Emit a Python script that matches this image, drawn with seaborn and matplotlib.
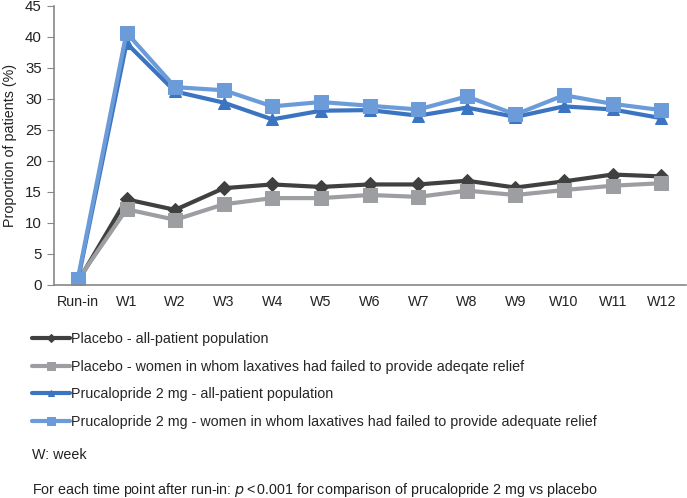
import matplotlib
matplotlib.use('Agg')
import matplotlib.pyplot as plt
import pandas as pd
import seaborn as sns

weeks = ['Run-in', 'W1', 'W2', 'W3', 'W4', 'W5', 'W6', 'W7', 'W8', 'W9', 'W10', 'W11', 'W12']
placebo_all = [0.5, 13.8, 12.1, 15.6, 16.2, 15.8, 16.2, 16.2, 16.8, 15.7, 16.7, 17.8, 17.5]
placebo_women = [0.8, 12.2, 10.5, 13.0, 14.0, 14.0, 14.5, 14.2, 15.2, 14.5, 15.3, 16.0, 16.4]
pruc_all = [0.7, 39.0, 31.2, 29.4, 26.7, 28.1, 28.2, 27.3, 28.6, 27.1, 28.8, 28.3, 26.9]
pruc_women = [1.0, 40.7, 31.9, 31.4, 28.8, 29.5, 28.9, 28.3, 30.4, 27.5, 30.6, 29.2, 28.2]

groups = [
    'Placebo - all-patient population',
    'Placebo - women in whom laxatives had failed to provide adeqate relief',
    'Prucalopride 2 mg - all-patient population',
    'Prucalopride 2 mg - women in whom laxatives had failed to provide adequate relief',
]
series = [placebo_all, placebo_women, pruc_all, pruc_women]
colors = ['#404040', '#9c9ea2', '#3b74c1', '#6b9cd9']
markers = ['D', 's', '^', 's']
msizes = [7, 9.5, 8, 10]

rows = []
for g, vals in zip(groups, series):
    for w, v in zip(weeks, vals):
        rows.append({'week': w, 'value': v, 'group': g})
df = pd.DataFrame(rows)

sns.set_style('white')
plt.rcParams['font.family'] = ['Liberation Sans', 'DejaVu Sans']

fig = plt.figure(figsize=(6.87, 4.98), dpi=100)
ax = fig.add_axes([0.078, 0.428, 0.920, 0.560])

handles = []
for g, c, m, ms in zip(groups, colors, markers, msizes):
    sub = df[df['group'] == g]
    sns.lineplot(data=sub, x='week', y='value', color=c, marker=m, markersize=ms,
                 markeredgecolor=c, linewidth=3, sort=False, ax=ax, label=g, legend=False)
    handles.append(ax.lines[-1])

ax.set_ylim(0, 45)
ax.set_yticks(range(0, 46, 5))
ax.set_xlim(-0.5, len(weeks) - 0.5)
ax.set_xlabel('')
ax.set_ylabel('Proportion of patients (%)', fontsize=10.3, color='#222222', labelpad=6)
ax.set_xticks(range(len(weeks)))
ax.set_xticklabels(weeks)
ax.set_xticks([i - 0.5 for i in range(len(weeks) + 1)], minor=True)
ax.tick_params(axis='x', which='major', length=0, labelsize=10.3, colors='#222222', pad=7)
ax.tick_params(axis='x', which='minor', length=5, color='#888888', width=1)
ax.tick_params(axis='y', length=5, color='#888888', labelsize=10.8, labelcolor='#222222', left=True)
for s in ['top', 'right']:
    ax.spines[s].set_visible(False)
for s in ['left', 'bottom']:
    ax.spines[s].set_color('#888888')
    ax.spines[s].set_linewidth(1.2)

fig.legend(handles=handles, labels=groups, loc='upper left', bbox_to_anchor=(0.046, 0.334),
           frameon=False, fontsize=10.3, handlelength=2.65, handletextpad=0.1,
           labelspacing=0.97, borderpad=0, borderaxespad=0, markerscale=0.6)
fig.text(0.046, 1 - 455 / 498, 'W: week', fontsize=10.3, va='center', color='#222222')
fig.text(0.046, 1 - 490 / 498,
         'For each time point after run-in: $p$$\\,$<$\\,$0.001 for comparison of prucalopride 2 mg vs placebo',
         fontsize=10.3, va='center', color='#222222')

plt.savefig('out.png', dpi=100)
plt.close()
